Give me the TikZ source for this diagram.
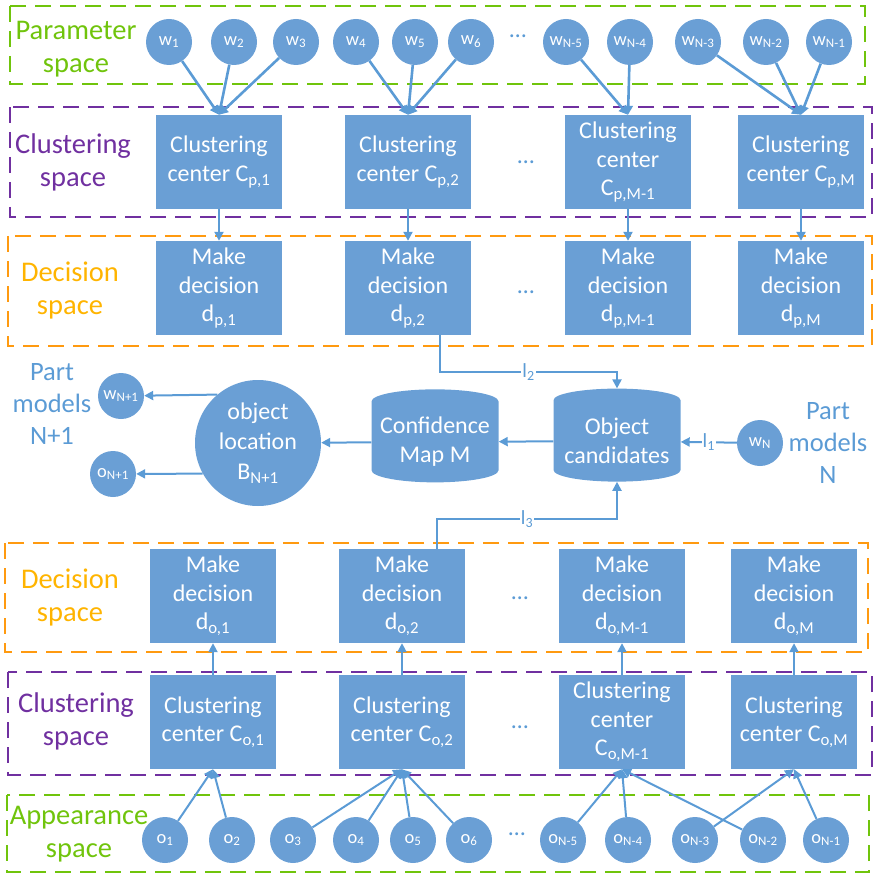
\documentclass[tikz,border=0pt]{standalone}
\usepackage{fontspec}
\setmainfont{Carlito}
\usetikzlibrary{arrows.meta,shapes.geometric}

\definecolor{boxblue}{HTML}{6A9FD5}
\definecolor{lineblue}{HTML}{5B9BD5}
\definecolor{zonegreen}{HTML}{70C40C}
\definecolor{zonepurple}{HTML}{7030A0}
\definecolor{zoneorange}{HTML}{FF9A10}
\definecolor{textorange}{HTML}{FFB400}

\tikzset{
  box/.style={rectangle, fill=boxblue, text=white, minimum width=126pt, minimum height=94pt,
    inner sep=0pt, align=center, font=\fontsize{24}{28.5}\selectfont},
  ball/.style={circle, fill=boxblue, text=white, minimum size=46pt, inner sep=0pt,
    font=\fontsize{18.5}{20}\selectfont},
  drum/.style={cylinder, shape border rotate=90, aspect=0.22, fill=boxblue, text=white,
    minimum width=127pt, minimum height=93pt, inner sep=0pt, align=center,
    font=\fontsize{24}{29}\selectfont},
  conn/.style={draw=lineblue, line width=2pt, -{Triangle[length=9pt,width=9pt]}},
  zone/.style={line width=2.6pt, dash pattern=on 16pt off 9pt},
  zonelabel/.style={align=center, inner sep=0pt, font=\fontsize{28.5}{33}\selectfont},
  partlabel/.style={align=center, inner sep=0pt, text=lineblue, font=\fontsize{26.5}{32}\selectfont},
  dots/.style={text=lineblue, inner sep=0pt, font=\fontsize{24}{28}\selectfont},
  lbl/.style={fill=white, text=lineblue, inner sep=1pt, font=\fontsize{20}{22}\selectfont}
}

\begin{document}
\begin{tikzpicture}[x=1pt, y=-1pt]
  \useasboundingbox (0,0) rectangle (874,877);

  % Dashed spaces
  \draw[zone, zonegreen] (10,6) rectangle (865,84);
  \draw[zone, zonepurple] (10,107) rectangle (872,217);
  \draw[zone, zoneorange] (8,236) rectangle (872,346);
  \draw[zone, zoneorange] (5,543) rectangle (868,652);
  \draw[zone, zonepurple] (8,672) rectangle (872,775);
  \draw[zone, zonegreen] (7,795) rectangle (869,872);

  % Space names
  \node[zonelabel, text=zonegreen] (parspace) at (76,49) {Parameter\\space};
  \node[zonelabel, text=zonepurple] (clupspace) at (73,162) {Clustering\\space};
  \node[zonelabel, text=textorange] (decpspace) at (70,290) {Decision\\space};
  \node[zonelabel, text=textorange] (decospace) at (70,597) {Decision\\space};
  \node[zonelabel, text=zonepurple] (cluospace) at (76,721) {Clustering\\space};
  \node[zonelabel, text=zonegreen] (appspace) at (79,834) {Appearance\\space};

  % Parameter nodes
  \foreach \x/\nm/\sub in {169/w1/1, 234/w2/2, 296/w3/3, 356/w4/4, 415/w5/5, 471/w6/6,
      566/wa/N-5, 630/wb/N-4, 698/wc/N-3, 766/wd/N-2, 829/we/N-1}
    \node[ball] (\nm) at (\x,42) {w\textsubscript{\sub}};
  \node[dots] (wdots) at (518,36) {\dots};

  % Clustering centers (parameters)
  \node[box] (Cp1) at (219,162) {Clustering\\center C\textsubscript{p,1}};
  \node[box] (Cp2) at (408,162) {Clustering\\center C\textsubscript{p,2}};
  \node[box] (Cp3) at (628,162) {Clustering\\center\\C\textsubscript{p,M-1}};
  \node[box] (Cp4) at (801,162) {Clustering\\center C\textsubscript{p,M}};
  \node[dots] (cpdots) at (526,162) {\dots};

  % Decisions (parameters)
  \node[box] (dp1) at (219,288) {Make\\decision\\d\textsubscript{p,1}};
  \node[box] (dp2) at (408,288) {Make\\decision\\d\textsubscript{p,2}};
  \node[box] (dp3) at (628,288) {Make\\decision\\d\textsubscript{p,M-1}};
  \node[box] (dp4) at (801,288) {Make\\decision\\d\textsubscript{p,M}};
  \node[dots] (dpdots) at (526,292) {\dots};

  % Object location part
  \node[drum] (obj) at (617,441) {Object\\candidates};
  \node[drum] (conf) at (435,442) {Confidence\\Map M};
  \node[ball, minimum size=126pt, align=center, font=\fontsize{24}{30}\selectfont] (loc) at (258,443)
    {object\\location\\B\textsubscript{N+1}};
  \node[ball] (wN1) at (121,396) {w\textsubscript{N+1}};
  \node[ball] (oN1) at (113,474) {o\textsubscript{N+1}};
  \node[ball] (wN) at (760,443) {w\textsubscript{N}};
  \node[partlabel] (partleft) at (52,404) {Part\\models\\N+1};
  \node[partlabel] (partright) at (828,443) {Part\\models\\N};

  % Decisions (appearance)
  \node[box] (do1) at (213,596) {Make\\decision\\d\textsubscript{o,1}};
  \node[box] (do2) at (402,596) {Make\\decision\\d\textsubscript{o,2}};
  \node[box] (do3) at (622,596) {Make\\decision\\d\textsubscript{o,M-1}};
  \node[box] (do4) at (794,596) {Make\\decision\\d\textsubscript{o,M}};
  \node[dots] (dodots) at (520,598) {\dots};

  % Clustering centers (appearance)
  \node[box] (Co1) at (213,722) {Clustering\\center C\textsubscript{o,1}};
  \node[box] (Co2) at (402,722) {Clustering\\center C\textsubscript{o,2}};
  \node[box] (Co3) at (622,722) {Clustering\\center\\C\textsubscript{o,M-1}};
  \node[box] (Co4) at (794,722) {Clustering\\center C\textsubscript{o,M}};
  \node[dots] (codots) at (520,727) {\dots};

  % Appearance nodes
  \foreach \x/\nm/\sub in {165/o1/1, 232/o2/2, 293/o3/3, 356/o4/4, 413/o5/5, 469/o6/6,
      563/oa/N-5, 628/ob/N-4, 695/oc/N-3, 763/od/N-2, 826/oe/N-1}
    \node[ball] (\nm) at (\x,840) {o\textsubscript{\sub}};
  \node[dots] (odots) at (517,834) {\dots};

  % Connectors
  \foreach \a/\b in {w1/Cp1, w2/Cp1, w3/Cp1, w4/Cp2, w5/Cp2, w6/Cp2,
      wa/Cp3, wb/Cp3, wc/Cp4, wd/Cp4, we/Cp4}
    \draw[conn, line width=2.6pt] (\a) -- (\b.north);
  \foreach \i in {1,...,4} {
    \draw[conn] (Cp\i) -- (dp\i);
    \draw[conn] (Co\i) -- (do\i);
  }
  \foreach \a/\b in {o1/Co1, o2/Co1, o3/Co2, o4/Co2, o5/Co2, o6/Co2,
      oa/Co3, ob/Co3, od/Co3, oc/Co4, oe/Co4}
    \draw[conn] (\a) -- (\b.south);

  \draw[conn] ([xshift=32pt]dp2.south) -- ++(0,37) -| node[lbl, pos=0.25] {l\textsubscript{2}} (obj.north);
  \draw[conn] ([xshift=35pt]do2.north) -- ++(0,-30) -| node[lbl, pos=0.25] {l\textsubscript{3}} (obj.south);
  \draw[conn] (wN) -- node[lbl] {l\textsubscript{1}} (obj);
  \draw[conn] (obj) -- (conf);
  \draw[conn] (conf) -- (loc);
  \draw[conn] (loc.130) -- (wN1);
  \draw[conn] (loc.209) -- (oN1);
\end{tikzpicture}
\end{document}
